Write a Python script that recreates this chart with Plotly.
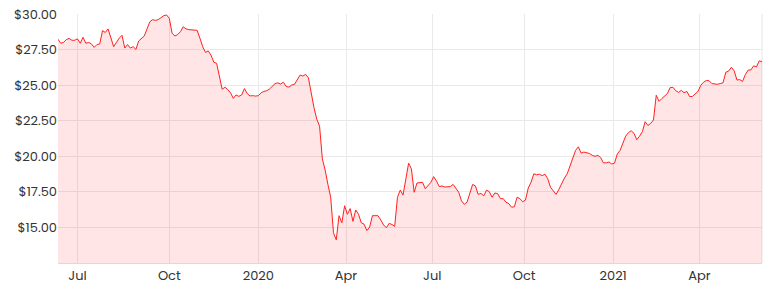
import pandas as pd
import plotly.graph_objects as go

# ASX market holidays within the charted window
asx_holidays = [
    "2019-12-25", "2019-12-26",
    "2020-01-01", "2020-01-27", "2020-04-10", "2020-04-13", "2020-06-08",
    "2020-12-25", "2020-12-28",
    "2021-01-01", "2021-01-26", "2021-04-02", "2021-04-05",
]
start_date = "2019-06-11"
end_date = "2021-06-08"

# closing prices, every second trading day
prices = [
    28.22, 27.94, 28.00, 28.20, 28.28, 28.15, 28.15, 28.25, 27.94, 28.36,
    27.94, 28.00, 27.90, 27.65, 27.85, 27.89, 28.83, 28.70, 28.95, 28.40,
    27.70, 28.00, 28.30, 28.50, 27.60, 27.85, 27.60, 27.70, 27.51, 28.10,
    28.25, 28.45, 28.95, 29.45, 29.60, 29.55, 29.60, 29.72, 29.88, 29.93,
    29.70, 28.65, 28.45, 28.55, 28.75, 29.10, 28.95, 28.90, 28.90, 28.90,
    28.85, 28.30, 27.70, 27.30, 27.40, 27.10, 26.60, 26.53, 25.60, 24.70,
    24.84, 24.68, 24.45, 24.06, 24.30, 24.20, 24.30, 24.75, 24.40, 24.23,
    24.25, 24.22, 24.25, 24.45, 24.55, 24.60, 24.72, 24.90, 25.10, 25.15,
    25.07, 25.20, 24.90, 24.85, 25.00, 25.05, 25.35, 25.70, 25.63, 25.75,
    25.50, 24.30, 23.40, 22.60, 22.10, 19.80, 19.01, 18.00, 17.10, 14.60,
    14.10, 15.80, 15.30, 16.50, 15.90, 16.30, 15.40, 16.20, 15.90, 15.30,
    15.20, 14.75, 15.00, 15.80, 15.80, 15.80, 15.50, 15.15, 14.95, 15.26,
    15.18, 15.05, 17.10, 17.60, 17.25, 18.30, 19.50, 19.10, 17.45, 18.10,
    18.12, 18.15, 17.70, 17.90, 18.15, 18.55, 18.25, 17.85, 17.89, 17.82,
    17.85, 17.85, 18.00, 17.75, 17.45, 16.85, 16.60, 16.75, 17.30, 18.00,
    17.90, 17.30, 17.37, 17.20, 17.60, 17.49, 17.10, 17.40, 17.35, 17.00,
    17.00, 16.75, 16.65, 16.40, 16.43, 17.10, 17.00, 16.78, 16.90, 17.75,
    18.15, 18.75, 18.68, 18.72, 18.62, 18.72, 18.40, 17.80, 17.55, 17.30,
    17.65, 18.10, 18.45, 18.75, 19.35, 19.95, 20.40, 20.65, 20.20, 20.28,
    20.25, 20.18, 20.05, 19.98, 20.05, 19.90, 19.52, 19.52, 19.58, 19.44,
    19.50, 20.15, 20.40, 20.85, 21.40, 21.65, 21.78, 21.60, 21.15, 21.40,
    21.71, 22.42, 22.15, 22.30, 22.54, 24.28, 23.85, 24.05, 24.25, 24.40,
    24.82, 24.84, 24.60, 24.48, 24.62, 24.46, 24.55, 24.18, 24.20, 24.36,
    24.55, 24.98, 25.20, 25.32, 25.30, 25.10, 25.05, 25.05, 25.10, 25.16,
    25.90, 25.98, 26.25, 26.00, 25.35, 25.38, 25.25, 25.72, 26.05, 26.06,
    26.35, 26.27, 26.70, 26.64,
]

x_tick_dates = ["2019-07-01", "2019-10-01", "2020-01-02", "2020-04-01",
                "2020-07-01", "2020-10-01", "2021-01-04", "2021-04-01"]
x_tick_labels = ["Jul", "Oct", "2020", "Apr", "Jul", "Oct", "2021", "Apr"]
y_ticks = [15.0, 17.5, 20.0, 22.5, 25.0, 27.5, 30.0]
y_tick_labels = ["$15.00", "$17.50", "$20.00", "$22.50", "$25.00", "$27.50", "$30.00"]

trading_days = pd.bdate_range(start=start_date, end=end_date, freq="C",
                              holidays=asx_holidays)
dates = list(trading_days[::2])[:len(prices)]

fig = go.Figure()
fig.add_trace(go.Scatter(
    x=dates, y=prices, mode="lines",
    line=dict(color="#ff2020", width=1),
    fill="tozeroy", fillcolor="rgba(255,0,0,0.10)",
    hoverinfo="skip",
))

font_family = "Poppins, 'Open Sans', Lato, sans-serif"
fig.update_layout(
    width=768, height=292,
    margin=dict(l=58, r=6, t=14, b=29),
    paper_bgcolor="white", plot_bgcolor="white",
    showlegend=False,
    font=dict(family=font_family, size=13, color="#333333"),
    xaxis=dict(
        type="date",
        range=[dates[0], dates[-1]],
        rangebreaks=[dict(bounds=["sat", "mon"]), dict(values=asx_holidays)],
        tickmode="array", tickvals=x_tick_dates, ticktext=x_tick_labels,
        showgrid=True, gridcolor="#e9e9e9", gridwidth=1,
        showline=True, linecolor="#e6d6d6", linewidth=1,
        ticks="", ticklen=0,
        tickfont=dict(family=font_family, size=13, color="#333333"),
        zeroline=False, mirror=False,
    ),
    yaxis=dict(
        range=[12.47, 30.0],
        tickmode="array", tickvals=y_ticks, ticktext=y_tick_labels,
        showgrid=True, gridcolor="#e9e9e9", gridwidth=1,
        showline=False, zeroline=False,
        ticks="", ticklen=0,
        tickfont=dict(family=font_family, size=13, color="#333333"),
    ),
)
fig.add_shape(type="line", xref="paper", yref="paper", x0=1, x1=1, y0=0, y1=1,
              line=dict(color="#e6e6e6", width=1), layer="below")

fig.write_html("out.html")
